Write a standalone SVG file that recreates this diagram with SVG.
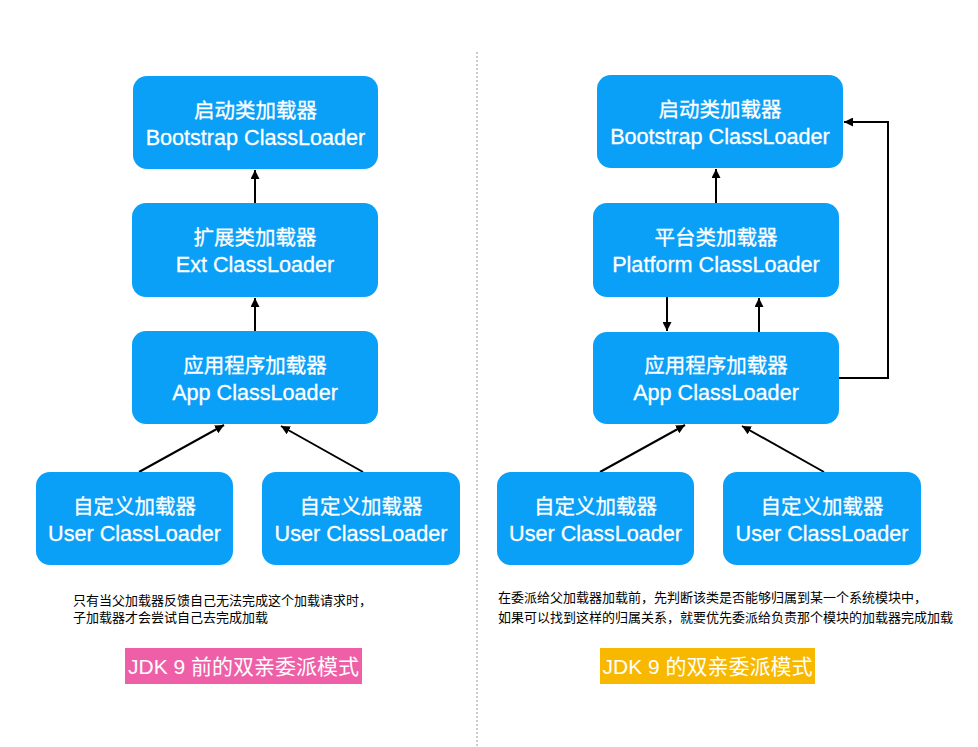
<svg xmlns="http://www.w3.org/2000/svg" width="978" height="747" viewBox="0 0 978 747">
<defs>
<marker id="ah" viewBox="0 0 10 10" refX="10" refY="5" markerWidth="4.5" markerHeight="4.5" orient="auto" markerUnits="strokeWidth">
<path d="M0,0 L10,5 L0,10 z" fill="#000"/>
</marker>
<style>
.box{fill:#0AA0F8;}
.t{font-family:"Liberation Sans","Noto Sans CJK SC",sans-serif;fill:#fff;text-anchor:middle;stroke:#fff;stroke-width:0.3;}
.zh{font-size:20.5px;}
.en{font-size:21.6px;}
.c{stroke:#000;stroke-width:2;fill:none;marker-end:url(#ah);}
.note{font-family:"Liberation Sans","Noto Sans CJK SC",sans-serif;font-size:13px;fill:#000;}
.lab{font-family:"Liberation Sans","Noto Sans CJK SC",sans-serif;font-size:21px;fill:#fff;text-anchor:middle;}
</style>
</defs>
<rect width="978" height="747" fill="#fff"/>
<line x1="477" y1="52" x2="477" y2="747" stroke="#999" stroke-width="1" stroke-dasharray="2,2"/>

<g id="connectors">
<line class="c" x1="255" y1="203" x2="255" y2="170"/>
<line class="c" x1="255" y1="331" x2="255" y2="298"/>
<line class="c" x1="139" y1="472" x2="224" y2="425"/>
<line class="c" x1="363" y1="472" x2="281" y2="426"/>
<line class="c" x1="716" y1="203" x2="716" y2="169"/>
<line class="c" x1="667" y1="297" x2="667" y2="331"/>
<line class="c" x1="759" y1="332" x2="759" y2="298"/>
<polyline class="c" points="839,378 888,378 888,122 844,122"/>
<line class="c" x1="600" y1="472" x2="685" y2="425"/>
<line class="c" x1="824" y1="472" x2="742" y2="426"/>
</g>

<g id="l-bootstrap">
<rect class="box" x="133" y="76" width="245" height="93" rx="14"/>
<text class="t zh" x="255.5" y="118">启动类加载器</text>
<text class="t en" x="255.5" y="145">Bootstrap ClassLoader</text>
</g>
<g id="l-ext">
<rect class="box" x="132" y="203" width="246" height="94" rx="14"/>
<text class="t zh" x="255" y="245">扩展类加载器</text>
<text class="t en" x="255" y="272">Ext ClassLoader</text>
</g>
<g id="l-app">
<rect class="box" x="132" y="331" width="246" height="93" rx="14"/>
<text class="t zh" x="255" y="373">应用程序加载器</text>
<text class="t en" x="255" y="400">App ClassLoader</text>
</g>
<g id="l-user1">
<rect class="box" x="36" y="472" width="197" height="93" rx="14"/>
<text class="t zh" x="134.5" y="514">自定义加载器</text>
<text class="t en" x="134.5" y="541">User ClassLoader</text>
</g>
<g id="l-user2">
<rect class="box" x="262" y="472" width="198" height="93" rx="14"/>
<text class="t zh" x="361" y="514">自定义加载器</text>
<text class="t en" x="361" y="541">User ClassLoader</text>
</g>

<g id="r-bootstrap">
<rect class="box" x="597" y="75" width="246" height="93" rx="14"/>
<text class="t zh" x="720" y="117">启动类加载器</text>
<text class="t en" x="720" y="144">Bootstrap ClassLoader</text>
</g>
<g id="r-platform">
<rect class="box" x="593" y="203" width="246" height="94" rx="14"/>
<text class="t zh" x="716" y="245">平台类加载器</text>
<text class="t en" x="716" y="272">Platform ClassLoader</text>
</g>
<g id="r-app">
<rect class="box" x="593" y="332" width="246" height="92" rx="14"/>
<text class="t zh" x="716" y="373">应用程序加载器</text>
<text class="t en" x="716" y="400">App ClassLoader</text>
</g>
<g id="r-user1">
<rect class="box" x="497" y="472" width="197" height="93" rx="14"/>
<text class="t zh" x="595.5" y="514">自定义加载器</text>
<text class="t en" x="595.5" y="541">User ClassLoader</text>
</g>
<g id="r-user2">
<rect class="box" x="723" y="472" width="198" height="93" rx="14"/>
<text class="t zh" x="822" y="514">自定义加载器</text>
<text class="t en" x="822" y="541">User ClassLoader</text>
</g>

<g id="notes">
<text class="note" x="73" y="605">只有当父加载器反馈自己无法完成这个加载请求时，</text>
<text class="note" x="73" y="622">子加载器才会尝试自己去完成加载</text>
<text class="note" x="498" y="602">在委派给父加载器加载前，先判断该类是否能够归属到某一个系统模块中，</text>
<text class="note" x="498" y="622">如果可以找到这样的归属关系，就要优先委派给负责那个模块的加载器完成加载</text>
</g>

<g id="label-left">
<rect x="125" y="648" width="237" height="36" fill="#EE5FA8"/>
<text class="lab" x="243.5" y="674">JDK 9 前的双亲委派模式</text>
</g>
<g id="label-right">
<rect x="600" y="648" width="215" height="36" fill="#F9B800"/>
<text class="lab" x="707.5" y="674">JDK 9 的双亲委派模式</text>
</g>
</svg>
